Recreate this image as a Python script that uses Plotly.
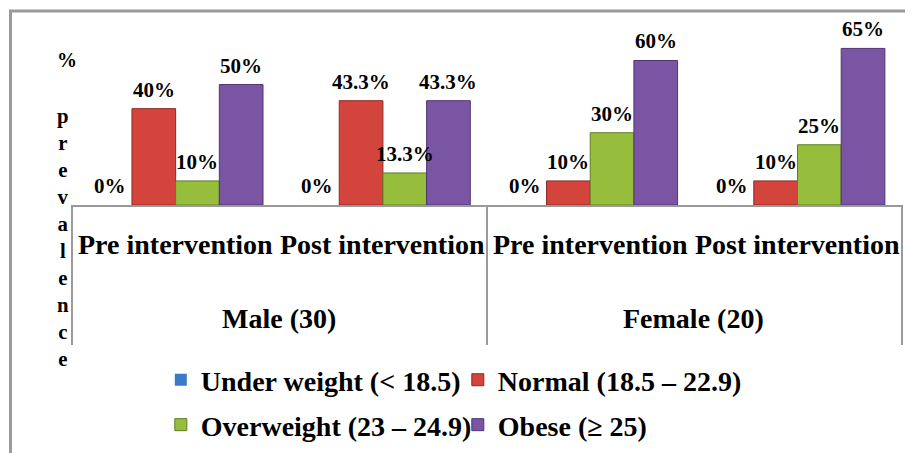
import plotly.graph_objects as go

categories = ["Male Pre", "Male Post", "Female Pre", "Female Post"]
sub_labels = ["Pre intervention", "Post intervention", "Pre intervention", "Post intervention"]
group_labels = ["Male (30)", "Female (20)"]

under_weight = [0, 0, 0, 0]
normal = [40, 43.3, 10, 10]
overweight = [10, 13.3, 30, 25]
obese = [50, 43.3, 60, 65]

series_names = ["Under weight (< 18.5)", "Normal (18.5 – 22.9)",
                "Overweight (23 – 24.9)", "Obese (≥ 25)"]
series_values = [under_weight, normal, overweight, obese]
colors = ["#3C7AC6", "#D2443C", "#96BE3C", "#7955A3"]
line_colors = ["#2A5A96", "#8E2A24", "#5F7E22", "#4F3572"]
legend_ids = ["legend", "legend", "legend2", "legend2"]

FONT = "Liberation Serif"
BARGAP = 0.157

fig = go.Figure()
for name, vals, c, lc, lg in zip(series_names, series_values, colors, line_colors, legend_ids):
    fig.add_trace(go.Bar(
        x=categories, y=vals, name=name,
        marker=dict(color=c, line=dict(color=lc, width=1 if max(vals) > 0 else 0)),
        legend=lg,
    ))

annotations = []
# data labels, placed over each bar of the group
n_series = len(series_values)
span = 1 - BARGAP
w = span / n_series
for j, vals in enumerate(series_values):
    for i, v in enumerate(vals):
        annotations.append(dict(
            x=i - span / 2 + w * (j + 0.5), y=v, xref="x", yref="y",
            text=f"{v:g}%", showarrow=False, yanchor="middle", yshift=19,
            font=dict(family=FONT, size=21, color="black", weight="bold")))
for cat, lab in zip(categories, sub_labels):
    annotations.append(dict(x=cat, y=-0.216, xref="x", yref="paper", text=lab,
                            showarrow=False, yanchor="middle",
                            font=dict(family=FONT, size=28, color="black", weight="bold")))
for xpos, lab in zip([0.5, 2.5], group_labels):
    annotations.append(dict(x=xpos, y=-0.611, xref="x", yref="paper", text=lab,
                            showarrow=False, yanchor="middle",
                            font=dict(family=FONT, size=28, color="black", weight="bold")))
annotations.append(dict(x=-0.0205, y=0.784, xref="paper", yref="paper", text="%",
                        showarrow=False, yanchor="middle",
                        font=dict(family=FONT, size=20, color="black", weight="bold")))
annotations.append(dict(x=-0.0205, y=-0.173, xref="paper", yref="paper",
                        text="<br>".join(list("prevalence")),
                        showarrow=False, yanchor="middle",
                        font=dict(family=FONT, size=20.8, color="black", weight="bold")))

shapes = [
    dict(type="rect", xref="paper", yref="paper", x0=-0.0741, x1=1.05, y0=-1.5, y1=1.0486,
         line=dict(color="#9A9A9A", width=3), layer="below"),
    dict(type="line", xref="paper", yref="paper", x0=0, x1=0, y0=0, y1=-0.757,
         line=dict(color="#9A9A9A", width=2)),
    dict(type="line", xref="paper", yref="paper", x0=0.5, x1=0.5, y0=0, y1=-0.757,
         line=dict(color="#9A9A9A", width=2)),
    dict(type="line", xref="paper", yref="paper", x0=1, x1=1, y0=0, y1=-0.757,
         line=dict(color="#9A9A9A", width=2)),
]

fig.update_layout(
    width=905, height=445,
    margin=dict(l=64, r=11, t=12, b=248, autoexpand=False),
    paper_bgcolor="white", plot_bgcolor="white",
    barmode="group", bargap=BARGAP, bargroupgap=0,
    xaxis=dict(showticklabels=False, showline=True, linecolor="#9A9A9A", linewidth=2,
               ticks="", showgrid=False, zeroline=False),
    yaxis=dict(range=[0, 76.8], visible=False),
    annotations=annotations,
    shapes=shapes,
    legend=dict(orientation="h", x=0.107, y=-0.946, xanchor="left", yanchor="middle",
                entrywidth=252, bgcolor="rgba(0,0,0,0)",
                font=dict(family=FONT, size=28, color="black", weight="bold")),
    legend2=dict(orientation="h", x=0.107, y=-1.189, xanchor="left", yanchor="middle",
                 entrywidth=252, bgcolor="rgba(0,0,0,0)",
                 font=dict(family=FONT, size=28, color="black", weight="bold")),
    showlegend=True,
)

fig.write_html("out.html")
